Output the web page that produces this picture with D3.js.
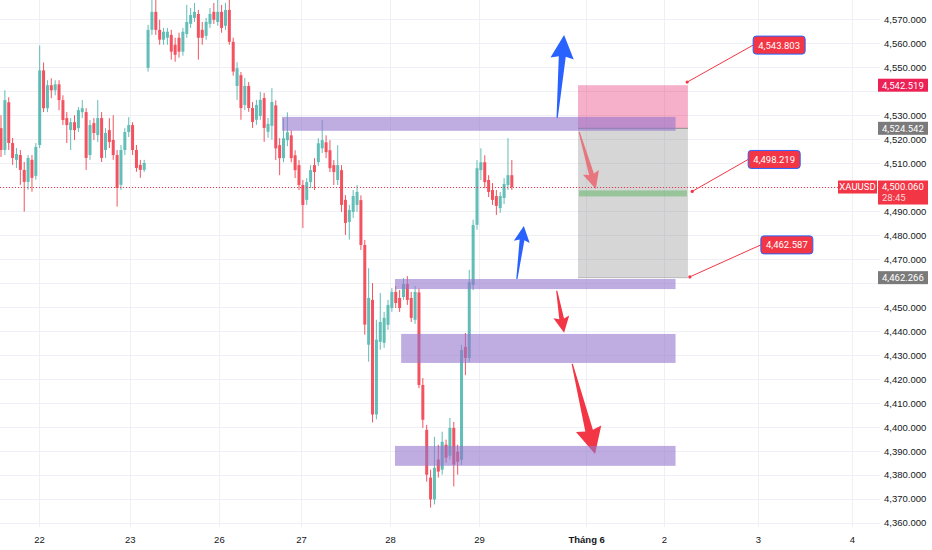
<!DOCTYPE html>
<html>
<head>
<meta charset="utf-8">
<script src="https://cdnjs.cloudflare.com/ajax/libs/d3/7.8.5/d3.min.js"></script>
<style>
  body { margin: 0; background: #fff; }
  svg { display: block; font-family: Roboto, "Noto Sans", sans-serif; }
  .axis text { font-size: 9.5px; fill: #131722; }
  .grid line { stroke: #eef0f5; stroke-width: 1; }
</style>
</head>
<body>
<svg id="chart" width="932" height="550"></svg>
<script>
// hourly candles (bar index 0 = left edge)
var opens = [
  4524.6,4515.5,4535.4,4518.4,4511.4,4513.4,4507.2,4502.2,4511.4,4504.7,
  4517.6,4548.7,4532.9,4542.5,4540.4,4542.9,4536.3,4528.8,4523.8,4527.1,
  4524.6,4531.3,4531.3,4513.4,4526.7,4521.7,4528.8,4515.5,4523.8,4519.7,
  4513.4,4501.0,4515.5,4523.0,4525.9,4515.5,4509.3,4507.2,
  4549.8,4565.6,4573.1,4565.6,4561.5,4562.3,4563.5,4559.4,4562.3,4556.5,
  4563.9,4568.1,4570.6,4572.2,4565.6,4563.1,4568.1,4573.1,4568.9,4573.1,
  4567.3,4573.9,4560.6,
  4542.2,4546.7,4534.3,4542.2,4533.0,4528.1,4529.7,4537.2,4523.1,4525.6,
  4534.1,4517.5,4512.1,4519.6,4521.6,4513.3,4509.2,4500.9,4494.7,4502.1,
  4509.2,4510.4,4516.2,4518.7,4515.4,4509.2,4503.0,4507.1,4494.7,4485.5,
  4489.7,4492.6,
  4494.6,4475.9,4434.3,
  4453.0,4405.2,4435.5,4435.1,4442.6,4449.6,4456.3,4453.8,4454.2,4459.6,4453.8,4444.7,
  4456.1,4417.5,4398.8,4378.9,4369.8,4386.4,4382.2,4392.6,4388.0,4399.6,4389.7,
  4386.3,4433.4,4428.8,4459.2,
  4484.3,4507.1,4510.4,4503.0,4498.8,4496.3,4491.3,4495.5,4500.9,4505.0
];
var highs = [
  4530.0,4540.4,4537.5,4520.5,4516.3,4515.5,4510.5,4513.4,4513.4,4518.4,
  4559.1,4552.0,4544.6,4545.4,4544.6,4544.6,4538.3,4531.3,4528.8,4530.0,
  4533.4,4536.3,4532.9,4528.0,4528.8,4536.3,4531.3,4524.6,4528.8,4530.0,
  4515.5,4517.6,4524.6,4529.2,4527.1,4517.6,4511.4,4511.4,
  4567.7,4578.1,4580.1,4569.8,4566.4,4566.4,4565.6,4562.3,4564.4,4566.4,
  4576.0,4574.7,4576.8,4573.9,4568.9,4570.6,4574.7,4576.8,4578.1,4576.0,
  4576.8,4578.9,4562.3,
  4552.1,4548.0,4545.5,4543.8,4535.5,4536.4,4539.7,4539.3,4528.9,4541.3,
  4536.2,4520.4,4528.7,4531.2,4523.7,4515.4,4511.3,4503.0,4503.8,4509.2,
  4512.1,4520.4,4527.9,4521.6,4519.6,4511.3,4517.5,4509.2,4496.7,4492.6,
  4498.8,4500.9,
  4496.6,4478.0,4466.2,
  4460.0,4444.7,4455.9,4448.0,4453.0,4457.9,4458.8,4457.1,4462.1,4462.9,4456.3,4458.8,
  4457.7,4420.4,4400.9,4382.2,4395.9,4392.6,4398.0,4394.7,4403.8,4402.1,4392.6,
  4434.2,4439.2,4465.5,4486.4,
  4511.3,4516.2,4513.3,4505.0,4501.7,4498.8,4498.0,4503.8,4520.4,4511.3
];
var lows = [
  4512.6,4513.4,4515.5,4509.3,4508.0,4501.0,4489.8,4498.9,4498.1,4503.1,
  4516.3,4531.3,4531.3,4537.1,4538.3,4532.1,4525.9,4518.4,4515.5,4519.7,
  4523.0,4528.8,4507.2,4511.4,4519.7,4518.8,4510.5,4512.2,4516.3,4511.4,
  4491.9,4498.9,4513.4,4520.9,4513.4,4506.4,4503.9,4506.4,
  4548.2,4563.5,4563.5,4559.4,4559.4,4559.4,4553.2,4552.3,4554.0,4554.8,
  4562.3,4566.4,4568.9,4553.2,4559.4,4561.5,4566.4,4568.1,4567.3,4564.4,
  4565.6,4559.4,4546.5,
  4536.4,4528.1,4532.2,4531.4,4524.7,4526.0,4528.1,4518.9,4520.6,4519.8,
  4511.3,4505.0,4510.4,4517.1,4510.4,4503.8,4498.8,4483.0,4492.6,4499.6,
  4498.8,4508.8,4514.2,4512.1,4506.3,4500.9,4500.9,4489.7,4480.1,4478.1,
  4487.2,4489.7,
  4473.8,4438.5,4427.2,
  4401.9,4403.2,4432.2,4433.0,4440.5,4448.0,4449.6,4448.0,4453.0,4450.9,4443.8,4443.0,
  4416.2,4399.6,4377.2,4366.4,4367.7,4378.9,4380.1,4385.1,4386.4,4375.2,4380.1,
  4384.2,4421.6,4427.1,4457.1,
  4482.2,4503.0,4499.6,4495.9,4492.6,4488.4,4489.3,4493.0,4498.8,4498.8
];
var closes = [
  4515.5,4536.3,4518.4,4512.2,4513.8,4507.2,4502.2,4512.2,4503.9,4516.8,
  4548.7,4532.9,4542.5,4540.4,4542.9,4536.3,4528.0,4525.9,4527.1,4523.8,
  4532.1,4532.9,4512.2,4525.9,4522.6,4528.8,4512.2,4522.6,4518.8,4513.4,
  4499.7,4515.5,4523.0,4525.9,4515.5,4508.0,4507.2,4510.1,
  4565.6,4573.1,4565.6,4561.5,4564.8,4564.8,4556.5,4555.2,4556.5,4564.8,
  4568.9,4571.8,4573.1,4562.3,4562.3,4568.9,4572.2,4569.8,4573.1,4566.4,
  4573.9,4560.6,4548.2,
  4549.6,4533.0,4542.2,4533.0,4527.2,4534.3,4536.4,4524.7,4526.4,4535.5,
  4516.2,4512.1,4520.4,4522.9,4512.1,4507.1,4500.9,4492.6,4502.1,4507.1,
  4506.3,4518.3,4519.6,4514.6,4507.9,4506.3,4509.2,4492.6,4485.1,4490.5,
  4496.3,4498.0,
  4475.9,4442.7,4453.8,
  4405.2,4436.4,4443.8,4445.5,4450.9,4456.3,4451.7,4449.6,4459.6,4453.0,4445.5,4456.3,
  4417.5,4403.0,4380.1,4369.8,4383.0,4381.4,4393.8,4387.2,4399.6,4384.3,4385.5,
  4432.1,4428.8,4460.4,4484.2,
  4507.9,4510.4,4502.1,4498.0,4494.7,4492.2,4496.3,4501.3,4505.0,4500.06
];

// time axis (bar index of each day label)
var dayTicks = [9.8, 33.3, 56.3, 77.5, 100.5, 123.5, 151.2, 171.3, 195.6, 219.9];
var dayLabels = ['22', '23', '26', '27', '28', '29', 'Tháng 6', '2', '3', '4'];
var priceTicks = d3.range(4360, 4571, 10);

// drawn zones: bar index from/to, price top/bottom
var zoneFrom = [72.6, 101.8, 103.4, 101.8];
var zoneTo = [174.3, 174.3, 174.3, 174.3];
var zoneTop = [4529.3, 4461.7, 4438.8, 4392.1];
var zoneBottom = [4523.5, 4457.5, 4426.7, 4383.8];

// arrows: [bar index, price] of tail and tip
var arrowTail = [[143.7, 4528.8], [133.3, 4461.7], [143.6, 4456.8], [147.6, 4426.3], [149.4, 4523.0]];
var arrowTip = [[145.5, 4563.5], [135.1, 4483.8], [145.5, 4439.3], [153.5, 4388.7], [153.7, 4499.2]];
var arrowKind = ['up', 'up', 'down', 'down', 'inside'];

// short position tool
var posFrom = 149.1, posTo = 177.5;
var posStop = 4542.519, posEntry = 4524.542, posTarget = 4462.266, posMid = 4498.219;

// price callouts
var calloutBar = [177.3, 178.6, 178.0];
var calloutPrice = [4543.803, 4498.219, 4462.587];

var lastPrice = 4500.060;
var countdown = '28:45';
var symbol = 'XAUUSD';
var scaleLabels = [4542.519, 4524.542, 4462.266];

var fmt = d3.format(',.3f');
var plotRight = 880, plotBottom = 527;
var upColor = '#26a69a', downColor = '#f23645', blue = '#2962ff';

var svg = d3.select('#chart');
var x = d3.scaleLinear().domain([0, 227]).range([1, 1 + 227 * 3.87]);
var y = d3.scaleLinear().domain([4360, 4570]).range([522.9, 19.3]);

svg.append('clipPath').attr('id', 'plot')
  .append('rect').attr('width', plotRight).attr('height', plotBottom);

// grid
var grid = svg.append('g').attr('class', 'grid');
grid.selectAll('.h').data(priceTicks).enter().append('line')
  .attr('x1', 0).attr('x2', plotRight)
  .attr('y1', function(d) { return Math.round(y(d)) + 0.5; })
  .attr('y2', function(d) { return Math.round(y(d)) + 0.5; });
grid.selectAll('.v').data(dayTicks).enter().append('line')
  .attr('y1', 0).attr('y2', plotBottom)
  .attr('x1', function(d) { return Math.round(x(d)) + 0.5; })
  .attr('x2', function(d) { return Math.round(x(d)) + 0.5; });

var plot = svg.append('g').attr('clip-path', 'url(#plot)');

// candles
var bars = plot.append('g').selectAll('g').data(closes).enter().append('g')
  .attr('opacity', function(d, i) { return d >= opens[i] ? 0.72 : 0.85; });
bars.append('line')
  .attr('x1', function(d, i) { return x(i); })
  .attr('x2', function(d, i) { return x(i); })
  .attr('y1', function(d, i) { return y(highs[i]); })
  .attr('y2', function(d, i) { return y(lows[i]); })
  .attr('stroke', function(d, i) { return d >= opens[i] ? upColor : downColor; })
  .attr('stroke-width', 1);
bars.append('rect')
  .attr('x', function(d, i) { return x(i) - 1.5; })
  .attr('width', 3)
  .attr('y', function(d, i) { return y(Math.max(d, opens[i])); })
  .attr('height', function(d, i) { return Math.max(1, Math.abs(y(d) - y(opens[i]))); })
  .attr('fill', function(d, i) { return d >= opens[i] ? upColor : downColor; });

// arrows
function arrowPoints(a, b) {
  var x1 = x(a[0]), y1 = y(a[1]), x2 = x(b[0]), y2 = y(b[1]);
  var dx = x2 - x1, dy = y2 - y1, len = Math.sqrt(dx * dx + dy * dy);
  var ux = dx / len, uy = dy / len, nx = -uy, ny = ux;
  var hl = Math.max(14, 0.26 * len), hw = Math.max(8, 0.14 * len), sw = hw * 0.3, tw = 0.6;
  var bx = x2 - ux * hl, by = y2 - uy * hl;
  var pts = [
    [x1 + nx * tw, y1 + ny * tw],
    [bx + nx * sw, by + ny * sw],
    [bx + nx * hw - ux * 2, by + ny * hw - uy * 2],
    [x2, y2],
    [bx - nx * hw - ux * 2, by - ny * hw - uy * 2],
    [bx - nx * sw, by - ny * sw],
    [x1 - nx * tw, y1 - ny * tw]
  ];
  return pts.map(function(p) { return p.join(','); }).join(' ');
}
plot.append('g').selectAll('polygon').data(arrowTail.slice(0, 4)).enter().append('polygon')
  .attr('points', function(d, i) { return arrowPoints(d, arrowTip[i]); })
  .attr('fill', function(d, i) { return arrowKind[i] === 'up' ? blue : downColor; });

// position tool
var pos = plot.append('g');
pos.append('rect')
  .attr('x', x(posFrom)).attr('width', x(posTo) - x(posFrom))
  .attr('y', y(posStop)).attr('height', y(posEntry) - y(posStop))
  .attr('fill', 'rgba(233,30,99,0.35)');
pos.append('rect')
  .attr('x', x(posFrom)).attr('width', x(posTo) - x(posFrom))
  .attr('y', y(posEntry)).attr('height', y(posTarget) - y(posEntry))
  .attr('fill', 'rgba(128,128,128,0.32)');
pos.append('line')
  .attr('x1', x(posFrom)).attr('x2', x(posTo))
  .attr('y1', y(posEntry)).attr('y2', y(posEntry))
  .attr('stroke', '#8f8f8f');
pos.append('line')
  .attr('x1', x(posFrom)).attr('x2', x(posTo))
  .attr('y1', y(posTarget)).attr('y2', y(posTarget))
  .attr('stroke', '#b8b8b8');

// zones
plot.append('g').selectAll('rect').data(zoneTop).enter().append('rect')
  .attr('x', function(d, i) { return x(zoneFrom[i]); })
  .attr('width', function(d, i) { return x(zoneTo[i]) - x(zoneFrom[i]); })
  .attr('y', function(d) { return y(d); })
  .attr('height', function(d, i) { return y(zoneBottom[i]) - y(d); })
  .attr('fill', 'rgba(149,117,205,0.6)');

// red arrow inside the box sits above zone and grey
plot.append('polygon')
  .attr('points', arrowPoints(arrowTail[4], arrowTip[4]))
  .attr('fill', downColor).attr('opacity', 0.6);

pos.append('rect')
  .attr('x', x(posFrom) + 1).attr('width', x(posTo) - x(posFrom) - 2)
  .attr('y', y(posMid) - 1).attr('height', 6)
  .attr('fill', 'rgba(76,175,80,0.45)');

// last price line
svg.append('line')
  .attr('x1', 0).attr('x2', plotRight - 2)
  .attr('y1', Math.round(y(lastPrice)) + 0.5).attr('y2', Math.round(y(lastPrice)) + 0.5)
  .attr('stroke', downColor).attr('stroke-width', 1).attr('stroke-dasharray', '1,2');

// callouts
var call = svg.append('g');
var callDx = [66, 56, 71], callDy = [-37, -32, -32];
calloutPrice.forEach(function(p, i) {
  var ax = x(calloutBar[i]), ay = y(p);
  var bx = ax + callDx[i], by = ay + callDy[i];
  call.append('line').attr('x1', ax).attr('y1', ay).attr('x2', bx).attr('y2', by)
    .attr('stroke', downColor).attr('stroke-width', 1);
  call.append('circle').attr('cx', ax).attr('cy', ay).attr('r', 1.6).attr('fill', downColor);
  call.append('rect').attr('x', bx).attr('y', by - 9).attr('width', 52).attr('height', 18)
    .attr('rx', 3).attr('fill', downColor).attr('stroke', blue).attr('stroke-width', 1);
  call.append('text').attr('x', bx + 26).attr('y', by + 3.4).attr('text-anchor', 'middle')
    .attr('fill', '#fff').style('font-size', '9.5px').text(fmt(p));
});

// price axis (ticks hidden under a price tag are left out)
var tagPrices = scaleLabels.concat([lastPrice]);
var visibleTicks = priceTicks.filter(function(t) {
  return tagPrices.every(function(p) { return Math.abs(y(t) - y(p)) > 9; });
});
var yAxis = svg.append('g').attr('class', 'axis')
  .attr('transform', 'translate(884,0)')
  .call(d3.axisRight(y).tickValues(visibleTicks).tickFormat(fmt).tickSize(0).tickPadding(0));
yAxis.select('.domain').remove();

// time axis
var xAxis = svg.append('g').attr('class', 'axis')
  .attr('transform', 'translate(0,' + plotBottom + ')')
  .call(d3.axisBottom(x).tickValues(dayTicks)
    .tickFormat(function(d, i) { return dayLabels[i]; }).tickSize(0).tickPadding(9));
xAxis.select('.domain').remove();
xAxis.selectAll('text').style('font-weight', function(d, i) { return dayLabels[i].length > 2 ? 'bold' : null; });

// labels on the price scale
var labelColors = ['#ec2256', '#7b7b7b', '#7b7b7b'];
var tags = svg.append('g');
scaleLabels.forEach(function(p, i) {
  var cy = y(p);
  tags.append('rect').attr('x', 878).attr('y', cy - 6.5).attr('width', 50).attr('height', 13)
    .attr('fill', labelColors[i]);
  tags.append('text').attr('x', 882).attr('y', cy + 3.3).attr('fill', '#fff')
    .style('font-size', '9.5px').text(fmt(p));
});
var ly = y(lastPrice);
tags.append('rect').attr('x', 838).attr('y', ly - 6.5).attr('width', 39).attr('height', 13).attr('fill', downColor);
tags.append('text').attr('x', 857.5).attr('y', ly + 3.3).attr('text-anchor', 'middle')
  .attr('fill', '#fff').style('font-size', '9.5px').text(symbol);
tags.append('rect').attr('x', 878).attr('y', ly - 6.5).attr('width', 50).attr('height', 24).attr('fill', downColor);
tags.append('text').attr('x', 882).attr('y', ly + 3.3).attr('fill', '#fff')
  .style('font-size', '9.5px').text(fmt(lastPrice));
tags.append('text').attr('x', 882).attr('y', ly + 14.3).attr('fill', '#ffd6da')
  .style('font-size', '9.5px').text(countdown);
</script>
</body>
</html>
